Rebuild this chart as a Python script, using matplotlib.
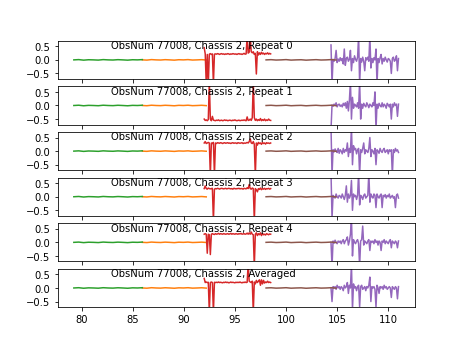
import numpy as np
import matplotlib
matplotlib.use("Agg")
import matplotlib.pyplot as plt

titles = ["ObsNum 77008, Chassis 2, Repeat 0",
          "ObsNum 77008, Chassis 2, Repeat 1",
          "ObsNum 77008, Chassis 2, Repeat 2",
          "ObsNum 77008, Chassis 2, Repeat 3",
          "ObsNum 77008, Chassis 2, Repeat 4",
          "ObsNum 77008, Chassis 2, Averaged"]

# flat segments (same in all panels)
green_range = (79.25, 85.95)
green_vals = [0.0, 0.01, -0.01, 0.005, 0.0, -0.008, 0.01, 0.0, -0.005, 0.008, 0.0, -0.01, 0.005, 0.0, 0.01]
orange_range = (85.95, 92.2)
orange_vals = [0.0, -0.008, 0.01, 0.0, -0.005, 0.008, 0.0, -0.01, 0.006, 0.0, 0.01, -0.006, 0.0, 0.008, -0.005]
brown_range = (98.05, 104.9)
brown_vals = [0.0, 0.008, -0.006, 0.0, 0.01, -0.008, 0.0, 0.005, -0.01, 0.0, 0.008, -0.005, 0.0, 0.01, -0.006]

red_range = (92.0, 98.5)
red_vals = [
    [0.45, 0.22, -0.9, 0.2, -0.9, 0.21, 0.23, 0.2, 0.22, -0.9, 0.21,
     0.22, 0.21, 0.23, 0.22, 0.2, 0.22, 0.23, 0.21, 0.22, 0.2, 0.22,
     0.21, 0.23, 0.22, 0.2, 0.22, 0.21, 0.23, 0.22, 0.21, 0.22, 0.2,
     0.22, 0.23, 0.21, 0.22, 0.2, 0.22, 0.24, 0.21, 0.22, 0.9, 0.25,
     0.28, 0.9, 0.3, 0.26, 0.3, 0.2, 0.24, -0.52, 0.3, 0.18, 0.26,
     0.2, 0.28, 0.22, 0.25, 0.2, 0.24, 0.22, 0.26, 0.21, 0.24, 0.22],
    [-0.5, -0.55, -0.53, -0.56, -0.52, 0.9, -0.5, -0.56, -0.4, -0.54, -0.55,
     -0.56, -0.54, -0.55, -0.53, -0.56, -0.55, -0.54, -0.56, -0.55, -0.53, -0.55,
     -0.54, -0.56, -0.55, -0.54, -0.55, -0.56, -0.54, -0.55, -0.53, -0.55, -0.56,
     -0.55, -0.54, -0.56, -0.55, -0.54, -0.55, -0.53, -0.55, -0.56, -0.42, -0.55,
     -0.54, -0.5, -0.55, -0.45, 0.9, -0.45, -0.55, -0.5, -0.56, -0.52, -0.55,
     -0.48, -0.56, -0.52, -0.55, -0.5, -0.56, -0.53, -0.55, -0.5, -0.54, -0.55],
    [0.3, 0.35, 0.28, 0.3, 0.32, 0.3, -0.9, 0.3, 0.28, 0.32, -0.9,
     0.3, 0.28, 0.31, 0.3, 0.29, 0.31, 0.3, 0.28, 0.3, 0.31, 0.29,
     0.3, 0.31, 0.29, 0.3, 0.28, 0.3, 0.31, 0.29, 0.3, 0.3, 0.28,
     0.31, 0.3, 0.29, 0.3, 0.31, 0.28, 0.3, 0.29, 0.3, 0.32, 0.3,
     0.35, 0.45, 0.3, 0.28, 0.35, 0.25, -0.9, 0.3, 0.22, 0.32, 0.28,
     0.3, 0.25, 0.32, 0.28, 0.3, 0.26, 0.31, 0.29, 0.3, 0.28, 0.3],
    [0.3, 0.4, 0.3, 0.28, 0.32, 0.3, 0.29, 0.3, 0.31, -0.9, 0.28,
     0.3, 0.29, 0.31, 0.3, 0.28, 0.3, 0.31, 0.3, 0.29, 0.3, 0.31,
     0.29, 0.3, 0.31, 0.3, 0.29, 0.3, 0.28, 0.31, 0.3, 0.29, 0.3,
     0.3, 0.31, 0.29, 0.3, 0.3, 0.28, 0.31, 0.3, 0.29, 0.33, 0.3,
     0.45, 0.3, 0.28, 0.32, 0.3, -0.9, 0.3, 0.25, 0.18, 0.3, 0.27,
     0.32, 0.26, 0.3, 0.28, 0.31, 0.27, 0.3, 0.29, 0.31, 0.28, 0.3],
    [0.3, 0.32, 0.3, -0.4, 0.3, 0.28, -0.45, 0.3, 0.32, 0.3, 0.29,
     0.32, 0.3, 0.31, 0.33, 0.3, 0.32, 0.31, 0.3, 0.32, 0.31, 0.3,
     0.31, 0.32, 0.3, 0.31, 0.33, 0.3, 0.32, 0.31, 0.3, 0.32, 0.31,
     0.3, 0.32, 0.31, 0.33, 0.3, 0.31, 0.32, 0.3, 0.31, 0.34, 0.3,
     0.35, 0.3, 0.38, 0.3, 0.28, -0.9, 0.3, 0.35, 0.25, 0.32, 0.28,
     0.35, 0.25, 0.33, 0.28, 0.3, 0.27, 0.32, 0.3, 0.28, 0.31, 0.3],
    [0.35, 0.2, 0.22, 0.2, 0.21, -0.9, 0.2, 0.22, 0.2, -0.9, 0.21,
     0.2, 0.21, 0.2, 0.22, 0.2, 0.21, 0.2, 0.19, 0.21, 0.2, 0.22,
     0.2, 0.21, 0.19, 0.2, 0.22, 0.2, 0.21, 0.2, 0.19, 0.21, 0.2,
     0.21, 0.2, 0.22, 0.2, 0.19, 0.21, 0.2, 0.22, 0.2, 0.21, 0.9,
     0.25, 0.22, 0.2, 0.25, -0.9, 0.22, 0.15, 0.28, 0.2, 0.25, 0.3,
     0.1, 0.3, 0.15, 0.28, 0.18, 0.22, 0.2, 0.25, 0.2, 0.22, 0.2],
]

purple_range = (104.4, 111.0)
purple_vals = [
    [0.55, -0.9, 0.02, -0.05, 0.05, 0.35, -0.1, 0.03, -0.05, 0.08,
     -0.03, 0.05, -0.15, 0.4, -0.2, 0.05, 0.1, -0.05, 0.02, 0.35,
     -0.4, 0.05, -0.1, 0.15, 0.02, -0.05, 0.1, 0.9, -0.9, 0.05,
     -0.08, 0.1, -0.05, -0.4, 0.08, 0.0, 0.1, -0.05, 0.9, -0.3,
     0.05, -0.1, 0.08, 0.0, 0.4, -0.9, 0.05, -0.1, 0.08, 0.2,
     -0.15, 0.05, -0.05, 0.1, 0.0, -0.08, 0.05, 0.02, -0.05, -0.5,
     0.05, 0.1, -0.05, 0.0, 0.15, -0.4, 0.05],
    [-0.9, 0.02, -0.03, 0.05, 0.0, 0.1, -0.05, 0.03, 0.05, -0.03,
     0.02, -0.05, 0.08, 0.0, 0.1, -0.1, 0.15, -0.2, 0.2, 0.9,
     -0.5, 0.3, -0.1, 0.05, 0.0, -0.05, 0.1, -0.1, 0.9, -0.5,
     0.05, -0.1, 0.08, 0.0, -0.05, 0.1, 0.02, -0.08, 0.05, 0.0,
     -0.05, 0.1, 0.0, 0.5, -0.9, 0.05, -0.1, 0.08, 0.0, -0.05,
     0.1, -0.05, 0.05, 0.0, -0.1, 0.08, 0.02, -0.05, 0.05, -0.5,
     0.05, -0.05, 0.1, 0.0, 0.05, -0.4, 0.05],
    [0.9, -0.9, 0.05, -0.03, 0.08, 0.0, -0.05, 0.1, -0.08, 0.05,
     0.0, -0.1, 0.1, -0.05, 0.05, 0.0, 0.3, -0.2, 0.1, -0.05,
     0.9, -0.5, 0.2, 0.05, 0.1, -0.1, 0.05, 0.1, -0.9, 0.05,
     -0.05, 0.1, 0.3, -0.1, 0.05, 0.0, -0.05, 0.1, 0.5, -0.2,
     0.05, 0.0, -0.1, 0.1, -0.5, 0.05, 0.0, -0.08, 0.1, 0.0,
     -0.05, 0.05, 0.1, -0.05, 0.0, 0.05, -0.1, 0.05, 0.0, 0.05,
     -0.9, 0.05, -0.05, 0.1, 0.0, 0.05, -0.05],
    [0.9, -0.8, 0.05, 0.0, -0.05, 0.1, 0.0, -0.05, 0.05, 0.02,
     -0.05, 0.1, 0.0, -0.1, 0.05, 0.4, -0.2, 0.1, -0.05, 0.05,
     0.6, -0.5, 0.1, 0.0, 0.05, -0.1, 0.05, 0.9, -0.3, 0.05,
     0.0, -0.1, 0.05, 0.1, -0.05, 0.0, 0.05, 0.9, -0.2, 0.1,
     0.0, -0.05, 0.1, 0.05, -0.4, 0.1, 0.0, -0.05, 0.05, 0.1,
     -0.4, 0.05, 0.0, 0.08, -0.05, 0.05, 0.0, 0.1, -0.05, 0.0,
     0.05, -0.05, 0.0, -0.4, 0.05, 0.1, -0.05],
    [0.0, -0.9, 0.05, -0.03, 0.08, 0.0, -0.05, 0.05, 0.0, 0.05,
     -0.05, 0.05, 0.1, -0.05, 0.05, 0.1, 0.2, -0.1, 0.05, 0.3,
     0.9, -0.5, 0.1, 0.0, -0.05, 0.05, 0.1, -0.05, -0.9, 0.05,
     0.1, 0.6, -0.1, 0.05, 0.0, -0.05, 0.05, 0.1, -0.3, 0.05,
     0.0, 0.05, -0.05, 0.1, 0.0, 0.05, -0.1, 0.05, 0.0, -0.3,
     0.05, 0.0, 0.1, -0.05, 0.05, 0.0, -0.05, 0.05, 0.1, -0.2,
     0.05, 0.0, -0.05, 0.05, 0.0, -0.2, 0.05],
    [0.0, -0.5, 0.05, 0.0, 0.05, -0.05, 0.1, 0.0, 0.05, -0.05,
     0.05, 0.0, -0.1, 0.1, 0.0, 0.05, 0.2, -0.2, 0.1, 0.0,
     0.9, -0.8, 0.15, 0.0, 0.05, -0.1, 0.05, 0.1, -0.7, 0.05,
     0.1, -0.05, 0.0, 0.05, -0.1, 0.05, 0.0, 0.1, 0.4, -0.5,
     0.05, 0.0, 0.05, -0.05, -0.7, 0.1, 0.0, -0.2, 0.05, 0.0,
     0.05, -0.05, 0.1, 0.0, 0.05, -0.05, 0.0, 0.05, 0.0, -0.35,
     0.05, 0.0, -0.05, 0.05, 0.0, -0.4, 0.05],
]


def xs(rng, vals):
    return np.linspace(rng[0], rng[1], len(vals))


fig, axes = plt.subplots(6, 1, sharex=True, figsize=(6.4, 4.8), dpi=72)
for i, ax in enumerate(axes):
    ax.plot(xs(orange_range, orange_vals), orange_vals, color="C1")
    ax.plot(xs(green_range, green_vals), green_vals, color="C2")
    ax.plot(xs(red_range, red_vals[i]), red_vals[i], color="C3")
    ax.plot(xs(purple_range, purple_vals[i]), purple_vals[i], color="C4")
    ax.plot(xs(brown_range, brown_vals), brown_vals, color="C5")
    ax.set_ylim(-0.7, 0.7)
    ax.set_yticks([-0.5, 0.0, 0.5])
    ax.text(0.15, 0.8, titles[i], transform=ax.transAxes)

fig.savefig("out.png", dpi=72)
